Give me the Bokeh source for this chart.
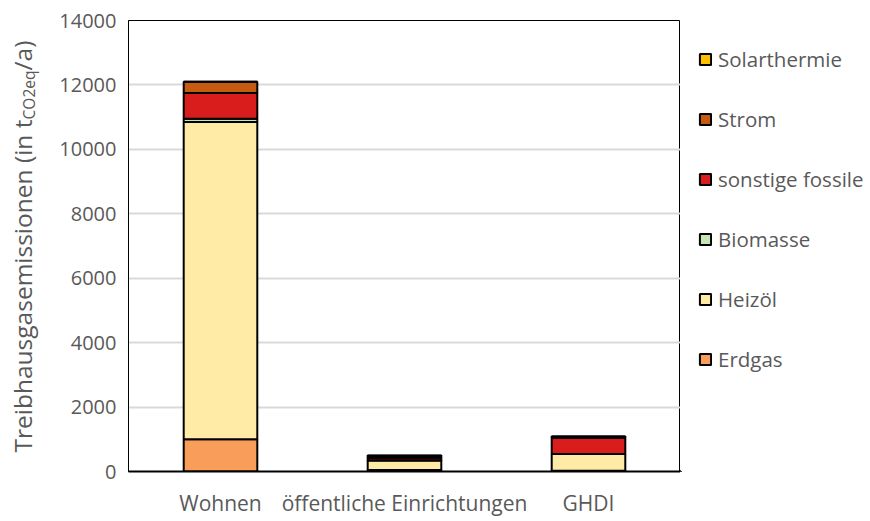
import math
from bokeh.plotting import figure
from bokeh.layouts import row
from bokeh.models import Legend, LegendItem, Label, FixedTicker, Range1d
from bokeh.embed import file_html
from bokeh.resources import INLINE

categories = ["Wohnen", "öffentliche Einrichtungen", "GHDI"]
erdgas = [1000, 50, 20]
heizoel = [9850, 290, 520]
biomasse = [100, 10, 0]
sonstige_fossile = [800, 80, 510]
strom = [350, 60, 40]
solarthermie = [0, 5, 0]
y_ticks = [0, 2000, 4000, 6000, 8000, 10000, 12000, 14000]

series = ["Erdgas", "Heizöl", "Biomasse", "sonstige fossile", "Strom", "Solarthermie"]
colors = ["#F89D5A", "#FFEBA5", "#C6E7B4", "#D91C1C", "#C55A11", "#FFC000"]
data = dict(cat=categories, **{
    "Erdgas": erdgas, "Heizöl": heizoel, "Biomasse": biomasse,
    "sonstige fossile": sonstige_fossile, "Strom": strom, "Solarthermie": solarthermie})

FONT = "Open Sans"
GRAY = "#595959"
H = 519
TOP, BOTTOM = 20, 48
yr = Range1d(0, 14000)

# --- narrow figure holding the y-axis title (with subscript) ---
lab = figure(width=40, height=H, x_range=(0, 40), y_range=yr,
             x_axis_type=None, y_axis_type=None, min_border_left=0, min_border_right=0,
             min_border_top=TOP, min_border_bottom=BOTTOM,
             output_backend="svg", toolbar_location=None)
lab.outline_line_color = None
kw = dict(angle=math.pi / 2, text_font=FONT, text_color=GRAY,
          text_baseline="middle", text_align="left")
lab.add_layout(Label(x=22, y=590, text="Treibhausgasemissionen (in t", text_font_size="24.5px", **kw))
lab.add_layout(Label(x=28, y=10930, text="CO2eq", text_font_size="15.5px", **kw))
lab.add_layout(Label(x=22, y=12450, text="/a)", text_font_size="24.5px", **kw))

# --- main chart ---
p = figure(x_range=categories, y_range=yr, width=88 + 552, height=H,
           output_backend="svg", toolbar_location=None,
           min_border_left=88, min_border_right=0, min_border_top=TOP, min_border_bottom=BOTTOM)

renderers = p.vbar_stack(series, x="cat", width=0.4, source=data, color=colors,
                         line_color="black", line_width=2)

p.outline_line_color = "black"
p.outline_line_width = 1
p.xgrid.grid_line_color = None
p.ygrid.grid_line_color = "#D9D9D9"
p.ygrid.grid_line_width = 2
p.yaxis.ticker = FixedTicker(ticks=y_ticks)
for ax in (p.xaxis[0], p.yaxis[0]):
    ax.major_tick_line_color = None
    ax.minor_tick_line_color = None
    ax.major_tick_out = 0
    ax.major_tick_in = 0
    ax.minor_tick_out = 0
    ax.major_label_text_font = FONT
    ax.major_label_text_color = GRAY
p.yaxis.major_label_text_font_size = "20px"
p.xaxis.major_label_text_font_size = "21px"
p.yaxis.axis_line_color = "black"
p.xaxis.axis_line_color = "black"
p.xaxis.axis_line_width = 2
p.yaxis.major_label_standoff = 12
p.xaxis.major_label_standoff = 17

# --- legend figure (proxy glyphs lie outside its visible ranges) ---
leg = figure(width=186, height=H, x_range=(0, 1), y_range=yr,
             x_axis_type=None, y_axis_type=None, min_border_left=0, min_border_right=0,
             min_border_top=TOP, min_border_bottom=BOTTOM,
             output_backend="svg", toolbar_location=None)
leg.outline_line_color = None
items = []
for s, c in zip(series, colors):
    r = leg.vbar(x=[-5], top=[-1000], bottom=[-2000], width=0.5,
                 fill_color=c, line_color="black", line_width=2)
    items.append(LegendItem(label=s, renderers=[r]))
legend = Legend(items=items[::-1], location=(18, 98), border_line_color=None,
                background_fill_alpha=0,
                label_text_font=FONT, label_text_font_size="20.5px", label_text_color=GRAY,
                glyph_width=14, glyph_height=14, label_height=24, spacing=32,
                padding=0, margin=0, label_standoff=6)
leg.add_layout(legend)

open("out.html", "w").write(file_html(row(lab, p, leg), INLINE))
